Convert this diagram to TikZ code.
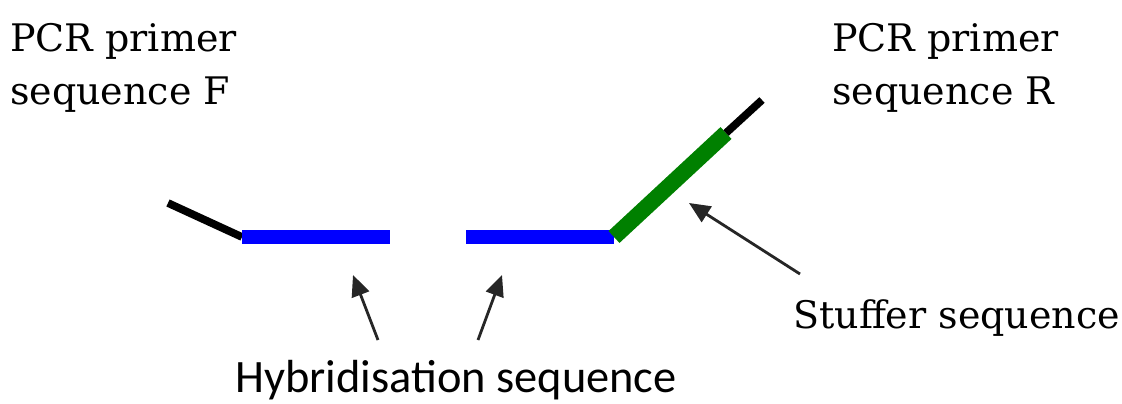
\documentclass[tikz,border=0pt]{standalone}
\usepackage{fontspec}
\setmainfont{DejaVu Serif}
\newfontfamily\labelsans{Carlito}
\usetikzlibrary{arrows.meta}

\begin{document}
\begin{tikzpicture}[
  x=0.025cm, y=-0.025cm,
  lbl/.style={align=left, inner sep=0pt, font=\fontsize{27}{37.5}\selectfont},
  primer/.style={draw=black, line width=5.5pt},
  hyb/.style={draw=blue, line width=10pt},
  stuff/.style={draw={rgb,255:red,0;green,128;blue,0}, line width=11.5pt},
  pointer/.style={-{Triangle[length=15pt,width=13pt]}, line width=2pt, black!85}
]
\useasboundingbox (0,0) rectangle (1122,403);

% strand end points
\coordinate (fend) at (168,203);
\coordinate (fjoin) at (242,237);
\coordinate (h1end) at (390,237);
\coordinate (h2start) at (466,237);
\coordinate (rjoin) at (614,237);
\coordinate (sjoin) at (726,133);
\coordinate (rend) at (762,100);

% the strands
\draw[primer] (fend) -- (fjoin);
\draw[hyb] (fjoin) -- (h1end);
\draw[hyb] (h2start) -- (rjoin);
\draw[stuff] (rjoin) -- (sjoin);
\draw[primer] (sjoin) -- (rend);

% labels (base = baseline of the last line)
\node[lbl, anchor=base west] (pf) at (10,104) {PCR primer\\sequence F};
\node[lbl, anchor=base west] (pr) at (832,104) {PCR primer\\sequence R};
\node[lbl, anchor=base west] (stf) at (793,328) {Stuffer sequence};
\node[inner sep=0pt, anchor=base west, font=\labelsans\fontsize{33}{40}\selectfont] (hyb) at (235,392) {Hybridisation sequence};

% pointers
\coordinate (stail) at (800,274);
\coordinate (shead) at (689,203);
\coordinate (h1tail) at (378,340);
\coordinate (h1head) at (353,275);
\coordinate (h2tail) at (478,340);
\coordinate (h2head) at (502,275);
\draw[pointer] (stail) -- (shead);
\draw[pointer] (h1tail) -- (h1head);
\draw[pointer] (h2tail) -- (h2head);
\end{tikzpicture}
\end{document}
